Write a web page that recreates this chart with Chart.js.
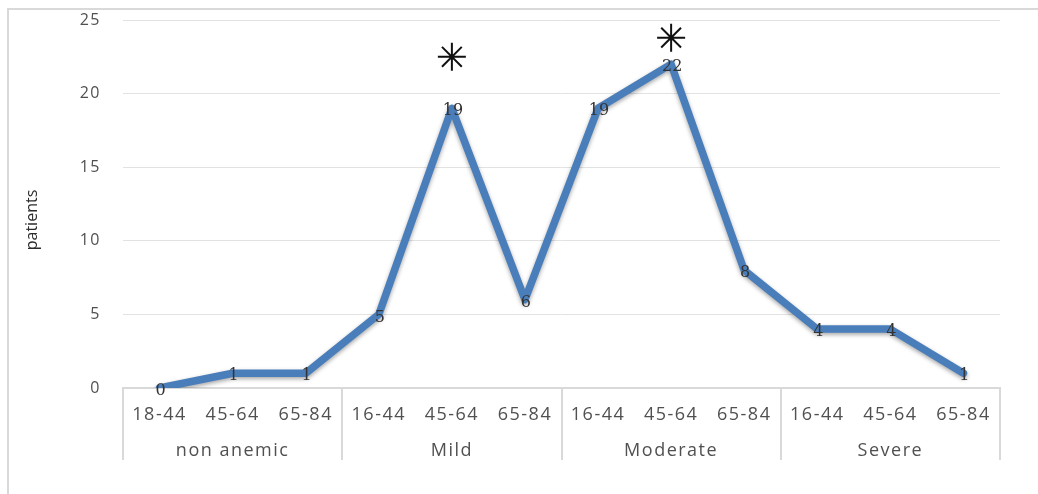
<!DOCTYPE html>
<html>
<head>
<meta charset="utf-8">
<script src="https://cdn.jsdelivr.net/npm/chart.js@4.4.1/dist/chart.umd.min.js"></script>
<style>
  html, body { margin: 0; padding: 0; background: #fff; }
  #wrap { position: relative; width: 1038px; height: 494px; }
  #frame { position: absolute; left: 7px; top: 8px; right: 0; bottom: 0;
           border-top: 2px solid #d9d9d9; border-left: 2px solid #d9d9d9; }
  #chart { position: absolute; left: 0; top: 0; }
</style>
</head>
<body>
<div id="wrap">
  <div id="frame"></div>
  <canvas id="chart" width="1038" height="494"></canvas>
</div>
<script>
'use strict';
var ageLabels = ['18-44', '45-64', '65-84', '16-44', '45-64', '65-84', '16-44', '45-64', '65-84', '16-44', '45-64', '65-84'];
var groupLabels = ['non anemic', 'Mild', 'Moderate', 'Severe'];
var patients = [0, 1, 1, 5, 19, 6, 19, 22, 8, 4, 4, 1];
// significance asterisks (height)
var starMarks = [null, null, null, null, 22.5, null, null, 23.8, null, null, null, null];
var yTicks = [0, 5, 10, 15, 20, 25];

var textGray = '#505050';
var lineGray = '#d9d9d9';
var tickSpacing = '1.5px';

var spacingPlugin = {
    id: 'spacing',
    beforeUpdate: function (chart) { chart.ctx.letterSpacing = tickSpacing; },
    beforeDraw: function (chart) { chart.ctx.letterSpacing = tickSpacing; }
};

// line shadow like the office chart
var shadowPlugin = {
    id: 'shadow',
    beforeDatasetDraw: function (chart, args) {
        if (args.index !== 0) return;
        var ctx = chart.ctx;
        ctx.save();
        ctx.shadowColor = 'rgba(0,0,0,0.35)';
        ctx.shadowBlur = 4;
        ctx.shadowOffsetY = 2;
    },
    afterDatasetDraw: function (chart, args) {
        if (args.index !== 0) return;
        chart.ctx.restore();
    }
};

// value labels centred on each point
var valueLabels = {
    id: 'valueLabels',
    afterDatasetsDraw: function (chart) {
        var ctx = chart.ctx;
        var meta = chart.getDatasetMeta(0);
        ctx.save();
        ctx.letterSpacing = '0px';
        ctx.font = '16px "DejaVu Serif"';
        ctx.fillStyle = '#333';
        ctx.textAlign = 'center';
        ctx.textBaseline = 'middle';
        for (var i = 0; i < meta.data.length; i++) {
            var pt = meta.data[i];
            ctx.fillText(String(patients[i]), pt.x + 1, pt.y + 3);
        }
        ctx.restore();
    }
};

// vertical separators of the two-level category axis
var groupLines = {
    id: 'groupLines',
    afterDraw: function (chart) {
        var x = chart.scales.x;
        var x2 = chart.scales.x2;
        var ctx = chart.ctx;
        ctx.save();
        ctx.strokeStyle = lineGray;
        ctx.lineWidth = 2;
        for (var i = 0; i <= ageLabels.length; i += 3) {
            var px = Math.round(x.getPixelForValue(i - 0.5));
            ctx.beginPath();
            ctx.moveTo(px, x.top);
            ctx.lineTo(px, x2.bottom);
            ctx.stroke();
        }
        ctx.restore();
    }
};

var ctx = document.getElementById('chart');
var chart = new Chart(ctx, {
    type: 'line',
    data: {
        labels: ageLabels,
        datasets: [{
            label: 'patients',
            data: patients,
            borderColor: '#4a7ebb',
            borderWidth: 7.5,
            borderJoinStyle: 'round',
            borderCapStyle: 'round',
            tension: 0,
            pointRadius: 0,
            fill: false
        }, {
            label: 'significant',
            data: starMarks,
            showLine: false,
            pointStyle: 'star',
            pointRadius: 14,
            pointBorderWidth: 2,
            pointBorderColor: '#111',
            pointBackgroundColor: '#111'
        }]
    },
    options: {
        responsive: false,
        animation: false,
        events: [],
        layout: { padding: { left: 18, right: 38, top: 20, bottom: 34 } },
        plugins: {
            legend: { display: false },
            tooltip: { enabled: false }
        },
        scales: {
            x: {
                type: 'category',
                offset: true,
                grid: { display: false },
                border: { display: true, color: lineGray, width: 2 },
                ticks: {
                    color: textGray,
                    font: { family: '"Open Sans"', size: 18 },
                    padding: 8,
                    autoSkip: false,
                    maxRotation: 0
                },
                afterFit: function (s) { s.height = 40; }
            },
            x2: {
                type: 'category',
                position: 'bottom',
                labels: groupLabels,
                offset: true,
                grid: { display: false },
                border: { display: false },
                ticks: {
                    color: textGray,
                    font: { family: '"Open Sans"', size: 18 },
                    padding: 4,
                    maxRotation: 0
                },
                afterFit: function (s) { s.height = 32; }
            },
            y: {
                min: 0,
                max: 25,
                afterBuildTicks: function (s) {
                    s.ticks = yTicks.map(function (v) { return { value: v }; });
                },
                grid: { color: '#e2e2e2', lineWidth: 1, drawTicks: false },
                border: { display: false },
                ticks: {
                    color: textGray,
                    font: { family: '"Open Sans"', size: 16 },
                    padding: 22
                },
                title: {
                    display: true,
                    text: 'patients',
                    color: '#2a2a2a',
                    font: { family: '"Open Sans"', size: 16 },
                    padding: { top: 5, bottom: 0 }
                },
                afterFit: function (s) {
                    s.width = 105;
                    s.paddingTop = 0;
                    s.paddingBottom = 0;
                    if (!s._plainTitle) {
                        // axis title: normal spacing, centred a bit lower like the original
                        var drawTitle = s.drawTitle;
                        s.drawTitle = function () {
                            var c = this.ctx;
                            c.save();
                            c.letterSpacing = '0px';
                            c.translate(0, 16);
                            drawTitle.apply(this, arguments);
                            c.restore();
                        };
                        s._plainTitle = true;
                    }
                }
            }
        }
    },
    plugins: [spacingPlugin, shadowPlugin, valueLabels, groupLines]
});
</script>
</body>
</html>
